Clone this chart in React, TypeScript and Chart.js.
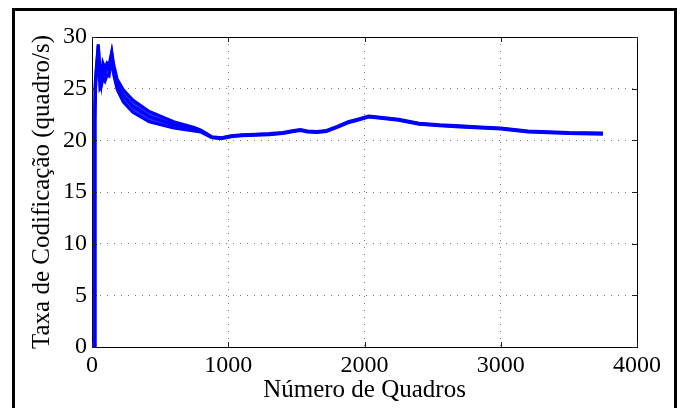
import React, { useEffect, useRef } from "react";
import { Chart, registerables } from "chart.js";

Chart.register(...registerables);

// Frame numbers (x) where the curves were read
const frames = [20, 21, 28, 46, 58, 68, 80, 95, 110, 125, 145, 160, 185, 230, 300, 420, 600, 750, 800, 880, 950, 1020, 1100, 1200, 1300, 1400, 1480, 1530, 1580, 1650, 1720, 1800, 1880, 1950, 2030, 2100, 2250, 2400, 2550, 2700, 2850, 3000, 3100, 3200, 3300, 3500, 3750];

// Coding rate (frames/s) — upper, middle and lower runs of the band
const rateHigh = [0, 25, 26.5, 29.3, 27, 26, 27.5, 27, 27.5, 27.3, 28.6, 27.3, 25.9, 24.9, 23.9, 22.8, 21.8, 21.25, 21.0, 20.35, 20.25, 20.45, 20.55, 20.6, 20.65, 20.75, 20.95, 21.05, 20.9, 20.85, 20.95, 21.35, 21.8, 22.05, 22.35, 22.25, 22.05, 21.65, 21.5, 21.4, 21.3, 21.2, 21.05, 20.9, 20.85, 20.75, 20.7];
const rateMid = [0, 23, 26, 29.2, 26.5, 25.5, 27, 26.5, 27.2, 26.8, 28.4, 26.8, 25.4, 24.3, 23.3, 22.3, 21.5, 21.1, 20.9, 20.3, 20.2, 20.4, 20.5, 20.55, 20.6, 20.7, 20.9, 21.0, 20.85, 20.8, 20.9, 21.3, 21.75, 22.0, 22.3, 22.2, 22.0, 21.6, 21.45, 21.35, 21.25, 21.15, 21.0, 20.85, 20.8, 20.7, 20.65];
const rateLow = [0, 22, 25.5, 28.5, 25.0, 25.2, 26, 25.7, 26.3, 26.2, 27.8, 26.3, 24.9, 23.7, 22.7, 21.8, 21.2, 20.9, 20.8, 20.25, 20.15, 20.35, 20.45, 20.5, 20.55, 20.65, 20.85, 20.95, 20.8, 20.75, 20.85, 21.25, 21.7, 21.95, 22.25, 22.15, 21.95, 21.55, 21.4, 21.3, 21.2, 21.1, 20.95, 20.8, 20.75, 20.65, 20.6];

const xTickValues = [0, 1000, 2000, 3000, 4000];
const yTickValues = [0, 5, 10, 15, 20, 25, 30];

const FONT = "'Liberation Serif', 'Times New Roman', serif";

const boxPlugin = {
  id: "matlabBox",
  afterDraw(chart: any) {
    const { ctx, chartArea } = chart;
    const { left, right, top, bottom } = chartArea;
    ctx.save();
    ctx.strokeStyle = "#000";
    ctx.lineWidth = 1;
    ctx.strokeRect(left + 0.5, top + 0.5, right - left, bottom - top);
    const xs = chart.scales.x;
    const ys = chart.scales.y;
    const tl = 5;
    ctx.strokeStyle = "#222";
    ctx.beginPath();
    xs.ticks.forEach((t: any) => {
      const px = Math.round(xs.getPixelForValue(t.value)) + 0.5;
      ctx.moveTo(px, bottom);
      ctx.lineTo(px, bottom - tl);
      ctx.moveTo(px, top);
      ctx.lineTo(px, top + tl);
    });
    ys.ticks.forEach((t: any) => {
      const py = Math.round(ys.getPixelForValue(t.value)) + 0.5;
      ctx.moveTo(left, py);
      ctx.lineTo(left + tl, py);
      ctx.moveTo(right, py);
      ctx.lineTo(right - tl, py);
    });
    ctx.stroke();
    // outer figure frame
    ctx.strokeStyle = "#000";
    ctx.lineWidth = 3;
    ctx.strokeRect(13.5, 9.5, 662, 430);
    ctx.restore();
  },
};

const bgPlugin = {
  id: "whiteBg",
  beforeDraw(chart: any) {
    const { ctx, width, height } = chart;
    ctx.save();
    ctx.fillStyle = "#fff";
    ctx.fillRect(0, 0, width, height);
    ctx.restore();
  },
};

export default function App() {
  const ref = useRef<HTMLCanvasElement | null>(null);

  useEffect(() => {
    if (!ref.current) return;
    const mk = (arr: number[]) => frames.map((f, i) => ({ x: f, y: arr[i] }));
    const chart = new Chart(ref.current, {
      type: "line",
      data: {
        datasets: [
          {
            data: mk(rateHigh),
            borderColor: "#0000ff",
            backgroundColor: "rgba(0,0,255,0.85)",
            borderWidth: 3,
            pointRadius: 0,
            tension: 0,
            fill: 2,
          },
          {
            data: mk(rateMid),
            borderColor: "#0000ff",
            borderWidth: 3,
            pointRadius: 0,
            tension: 0,
            fill: false,
          },
          {
            data: mk(rateLow),
            borderColor: "#0000ff",
            borderWidth: 3,
            pointRadius: 0,
            tension: 0,
            fill: false,
          },
        ],
      },
      options: {
        responsive: false,
        animation: false,
        layout: { padding: { left: 0, right: 43, top: 37, bottom: 0 } },
        plugins: {
          legend: { display: false },
          tooltip: { enabled: false },
        },
        scales: {
          x: {
            type: "linear",
            min: 0,
            max: 4000,
            afterFit: (s: any) => {
              s.height = 61;
            },
            afterBuildTicks: (s: any) => {
              s.ticks = xTickValues.map((v) => ({ value: v }));
            },
            ticks: {
              color: "#000",
              font: { family: FONT, size: 24 },
              padding: 4,
              maxRotation: 0,
              autoSkip: false,
              callback: (v: any) => String(v),
            },
            grid: {
              color: "#7a7a7a",
              lineWidth: 1,
              drawTicks: false,
            },
            border: { display: true, color: "#000", width: 1, dash: [1, 6] },
            title: {
              display: true,
              text: "Número de Quadros",
              color: "#000",
              font: { family: FONT, size: 25 },
              padding: { top: 0, bottom: 3 },
            },
          },
          y: {
            type: "linear",
            min: 0,
            max: 30,
            afterFit: (s: any) => {
              s.width = 92;
            },
            afterBuildTicks: (s: any) => {
              s.ticks = yTickValues.map((v) => ({ value: v }));
            },
            ticks: {
              color: "#000",
              font: { family: FONT, size: 24 },
              padding: 5,
              autoSkip: false,
              callback: (v: any) => String(v),
            },
            grid: {
              color: "#7a7a7a",
              lineWidth: 1,
              drawTicks: false,
            },
            border: { display: true, color: "#000", width: 1, dash: [1, 6] },
            title: {
              display: true,
              text: "Taxa de Codificação (quadro/s)",
              color: "#000",
              font: { family: FONT, size: 25 },
              padding: { top: 27, bottom: 0 },
            },
          },
        },
      },
      plugins: [bgPlugin, boxPlugin],
    } as any);
    return () => chart.destroy();
  }, []);

  return (
    <div style={{ position: "fixed", left: 0, top: 0, width: 680, height: 408 }}>
      <canvas ref={ref} width={680} height={408} style={{ display: "block" }} />
    </div>
  );
}
